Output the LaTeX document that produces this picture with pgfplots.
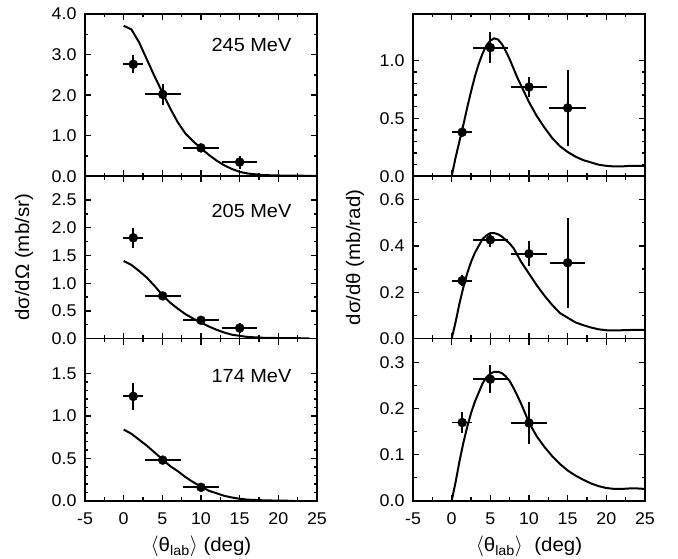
\documentclass[border=0pt]{standalone}
\usepackage{fontspec}
\setmainfont{Liberation Sans}[FakeStretch=1.05]
\usepackage{pgfplots}
\pgfplotsset{compat=1.18}

\pgfplotsset{
  panel/.style={
    scale only axis, width=232pt, height=162.3pt,
    xmin=-5, xmax=25, xtick={-5,0,...,25}, minor x tick num=1,
    tick align=inside, major tick length=6pt, minor tick length=3.5pt,
    axis line style={line width=1.6pt},
    every tick/.style={black, line width=1.3pt},
    /pgf/number format/assume math mode=true,
    ticklabel style={font=\fontsize{17}{20}\selectfont},
    label style={font=\fontsize{19.5}{22}\selectfont},
    xlabel style={at={(rel axis cs:0.5,0)}, anchor=base, yshift=-51pt},
    scaled y ticks=false,
    yticklabel style={/pgf/number format/fixed, /pgf/number format/fixed zerofill, /pgf/number format/precision=1, xshift=-5pt},
    xticklabel style={/pgf/number format/fixed, /pgf/number format/precision=0, anchor=base, yshift=-24pt},
  },
  curve/.style={black, line width=2pt, no marks},
  pts/.style={black, only marks, mark=*, mark size=4.5pt,
    error bars/.cd, x dir=both, x explicit, y dir=both, y explicit,
    error bar style={line width=1.8pt}, error mark=none},
}
\tikzset{mev/.style={anchor=east, font=\fontsize{19}{22}\selectfont}}

\begin{document}
\begin{tikzpicture}
% ---------------- left column: d sigma / d Omega
\begin{axis}[panel, name=tl, at={(0,0)}, anchor=north west,
  ymin=0, ymax=4.0, ytick={0,1,...,4}, minor y tick num=1, xticklabels={}]
\addplot[curve] coordinates {
(0,3.71) (1,3.62) (2,3.30) (3,2.88) (4,2.46) (5,2.07) (6,1.68) (7,1.33)
(8,1.05) (9,0.86) (10,0.69) (11,0.53) (12,0.39) (13,0.27) (14,0.18)
(15,0.11) (16,0.07) (17,0.05) (18,0.03) (20,0.02) (25,0.01)};
\addplot[pts] table[x=x, y=y, x error=ex, y error=ey] {
x y ex ey
1.24 2.76 1.3 0.22
5.05 2.02 2.3 0.26
10.0 0.70 2.3 0.06
15.0 0.35 2.3 0.16
};
\node[mev] at (rel axis cs:0.905,0.81) {245 MeV};
\end{axis}

\begin{axis}[panel, at={(0,-162.3pt)}, anchor=north west,
  ymin=0, ymax=2.93, ytick={0,0.5,...,2.5}, minor y tick num=1, xticklabels={},
  ylabel={dσ/dΩ (mb/sr)},
  ylabel style={at={([xshift=-61pt]rel axis cs:0,0.5)}, anchor=center}]
\addplot[curve] coordinates {
(0,1.40) (1,1.33) (2,1.22) (3,1.10) (4,0.95) (5,0.79) (6,0.65) (7,0.54)
(8,0.44) (9,0.36) (10,0.29) (11,0.22) (12,0.16) (13,0.11) (14,0.07)
(15,0.05) (16,0.03) (18,0.015) (20,0.01) (24,0.005)};
\addplot[pts] table[x=x, y=y, x error=ex, y error=ey] {
x y ex ey
1.24 1.82 1.3 0.18
5.05 0.77 2.3 0.05
10.0 0.33 2.3 0.05
15.0 0.19 2.3 0.09
};
\node[mev] at (rel axis cs:0.905,0.785) {205 MeV};
\end{axis}

\begin{axis}[panel, at={(0,-324.6pt)}, anchor=north west,
  ymin=0, ymax=1.91, ytick={0,0.5,...,1.5}, minor y tick num=4,
  xlabel={$\langle$θ\textsubscript{lab}$\rangle$ (deg)}]
\addplot[curve] coordinates {
(0,0.84) (1,0.79) (2,0.72) (3,0.65) (4,0.57) (5,0.49) (6,0.41) (7,0.35)
(8,0.28) (9,0.22) (10,0.17) (11,0.12) (12,0.09) (13,0.06) (14,0.04)
(15,0.025) (16,0.015) (18,0.007) (20,0.003) (22,0.001)};
\addplot[pts] table[x=x, y=y, x error=ex, y error=ey] {
x y ex ey
1.24 1.23 1.3 0.16
5.05 0.48 2.3 0.04
10.0 0.16 2.3 0.03
};
\node[mev] at (rel axis cs:0.905,0.77) {174 MeV};
\end{axis}

% ---------------- right column: d sigma / d theta
\begin{axis}[panel, at={(328pt,0)}, anchor=north west,
  ymin=0, ymax=1.40, ytick={0,0.5,1.0}, minor y tick num=4, xticklabels={}]
\addplot[curve] coordinates {
(0,0) (0.5,0.16) (1,0.30) (1.5,0.44) (2,0.59) (2.5,0.73) (3,0.86) (3.5,0.97)
(4,1.06) (4.5,1.13) (5,1.17) (5.5,1.19) (6,1.18) (6.5,1.14) (7,1.08)
(7.5,1.01) (8,0.93) (8.5,0.85) (9,0.78) (10,0.64) (11,0.52) (12,0.42)
(13,0.33) (14,0.26) (15,0.21) (16,0.17) (17,0.14) (18,0.12) (19,0.10)
(20,0.09) (21,0.085) (22,0.085) (23,0.09) (24,0.09) (25,0.09)};
\addplot[pts] table[x=x, y=y, x error=ex, y error=ey] {
x y ex ey
1.36 0.38 1.3 0.02
5.0 1.11 2.3 0.135
10.0 0.77 2.3 0.087
15.0 0.59 2.35 0.33
};
\end{axis}

\begin{axis}[panel, at={(328pt,-162.3pt)}, anchor=north west,
  ymin=0, ymax=0.70, ytick={0,0.2,0.4,0.6}, minor y tick num=1, xticklabels={},
  ylabel={dσ/dθ (mb/rad)},
  ylabel style={at={([xshift=-58pt]rel axis cs:0,0.5)}, anchor=center}]
\addplot[curve] coordinates {
(0,0) (0.5,0.07) (1,0.15) (1.5,0.22) (2,0.28) (2.5,0.33) (3,0.37) (3.5,0.40)
(4,0.43) (4.5,0.445) (5,0.455) (5.5,0.455) (6,0.45) (6.5,0.44) (7,0.425)
(7.5,0.41) (8,0.39) (8.5,0.36) (9,0.33) (10,0.28) (11,0.23) (12,0.185)
(13,0.145) (14,0.11) (15,0.09) (16,0.07) (17,0.058) (18,0.048) (19,0.04)
(20,0.036) (21,0.035) (22,0.036) (23,0.037) (24,0.038) (25,0.038)};
\addplot[pts] table[x=x, y=y, x error=ex, y error=ey] {
x y ex ey
1.36 0.25 1.3 0.025
5.0 0.426 2.3 0.03
10.0 0.366 2.3 0.055
15.0 0.327 2.3 0.195
};
\end{axis}

\begin{axis}[panel, at={(328pt,-324.6pt)}, anchor=north west,
  ymin=0, ymax=0.352, ytick={0,0.1,0.2,0.3}, minor y tick num=1,
  xlabel={$\langle$θ\textsubscript{lab}$\rangle$\ \ (deg)}]
\addplot[curve] coordinates {
(0,0) (0.5,0.04) (1,0.085) (1.5,0.125) (2,0.16) (2.5,0.19) (3,0.215)
(3.5,0.235) (4,0.255) (4.5,0.268) (5,0.276) (5.5,0.28) (6,0.28) (6.5,0.277)
(7,0.27) (7.5,0.26) (8,0.245) (8.5,0.228) (9,0.21) (10,0.17) (11,0.14)
(12,0.117) (13,0.097) (14,0.08) (15,0.066) (16,0.055) (17,0.046)
(18,0.038) (19,0.032) (20,0.028) (21,0.026) (22,0.026) (23,0.027)
(24,0.027) (25,0.026)};
\addplot[pts] table[x=x, y=y, x error=ex, y error=ey] {
x y ex ey
1.36 0.17 1.3 0.022
5.0 0.264 2.3 0.03
10.0 0.169 2.3 0.045
};
\end{axis}

\pgfresetboundingbox
\path ([shift={(-85pt,14pt)}]tl.north west) rectangle ([shift={(593pt,-545pt)}]tl.north west);
\end{tikzpicture}
\end{document}
